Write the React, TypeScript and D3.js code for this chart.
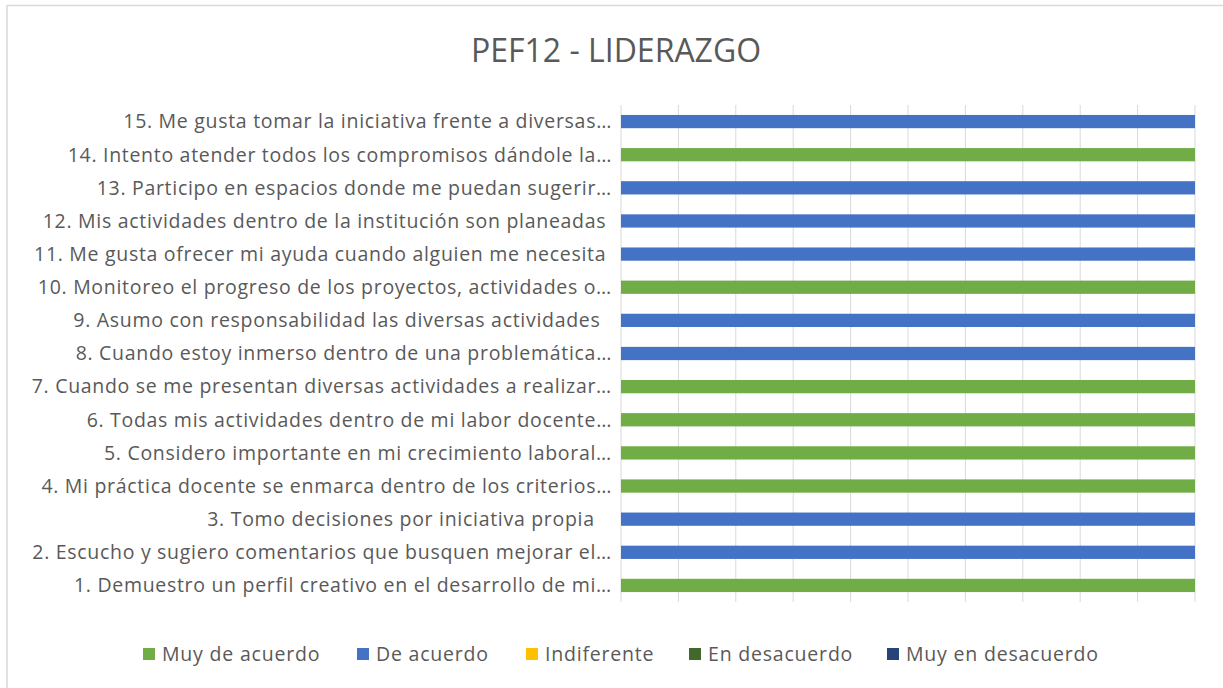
import React from "react";
import * as d3 from "d3";

const title = "PEF12 - LIDERAZGO";

const questions = [
  "1. Demuestro un perfil creativo en el desarrollo de mi…",
  "2. Escucho y sugiero comentarios que busquen mejorar el…",
  "3. Tomo decisiones por iniciativa propia   ",
  "4. Mi práctica docente se enmarca dentro de los criterios…",
  "5. Considero importante en mi crecimiento laboral…",
  "6. Todas mis actividades dentro de mi labor docente…",
  "7. Cuando se me presentan diversas actividades a realizar…",
  "8. Cuando estoy inmerso dentro de una problemática…",
  "9. Asumo con responsabilidad las diversas actividades  ",
  "10. Monitoreo el progreso de los proyectos, actividades o…",
  "11. Me gusta ofrecer mi ayuda cuando alguien me necesita ",
  "12. Mis actividades dentro de la institución son planeadas ",
  "13. Participo en espacios donde me puedan sugerir…",
  "14. Intento atender todos los compromisos dándole la…",
  "15. Me gusta tomar la iniciativa frente a diversas…",
];

const seriesNames = ["Muy de acuerdo", "De acuerdo", "Indiferente", "En desacuerdo", "Muy en desacuerdo"];
const seriesColors = ["#70AD47", "#4472C4", "#FFC000", "#43682B", "#264478"];

const muyDeAcuerdo = [1, 0, 0, 1, 1, 1, 1, 0, 0, 1, 0, 0, 0, 1, 0];
const deAcuerdo = [0, 1, 1, 0, 0, 0, 0, 1, 1, 0, 1, 1, 1, 0, 1];
const indiferente = [0, 0, 0, 0, 0, 0, 0, 0, 0, 0, 0, 0, 0, 0, 0];
const enDesacuerdo = [0, 0, 0, 0, 0, 0, 0, 0, 0, 0, 0, 0, 0, 0, 0];
const muyEnDesacuerdo = [0, 0, 0, 0, 0, 0, 0, 0, 0, 0, 0, 0, 0, 0, 0];

const seriesValues = [muyDeAcuerdo, deAcuerdo, indiferente, enDesacuerdo, muyEnDesacuerdo];

const FONT = "'Open Sans', sans-serif";
const TEXT = "#595959";

export default function App() {
  const W = 1223;
  const H = 688;
  const left = 621;
  const right = 1195;
  const top = 105;
  const bottom = 602;

  const rows = questions.map((q, i) => {
    const r: any = { q };
    seriesNames.forEach((s, k) => (r[s] = seriesValues[k][i]));
    return r;
  });

  const stack = d3.stack<any>().keys(seriesNames).offset(d3.stackOffsetExpand);
  const stacked = stack(rows);

  const x = d3.scaleLinear().domain([0, 1]).range([left, right]);
  const y = d3
    .scaleBand<string>()
    .domain([...questions].reverse())
    .range([top, bottom])
    .paddingInner(0.6)
    .paddingOuter(0.3);

  const ticks = x.ticks(10);
  const legendX = [143, 357, 526, 689, 887];

  return (
    <svg width={W} height={H} style={{ position: "absolute", left: 0, top: 0, background: "#fff" }}>
      <rect x={0} y={0} width={W} height={H} fill="#fff" />
      <line x1={7} y1={5.5} x2={W} y2={5.5} stroke="#D9D9D9" strokeWidth={1.5} />
      <line x1={7} y1={5} x2={7} y2={H} stroke="#D9D9D9" strokeWidth={1.5} />
      <text x={616} y={62} textAnchor="middle" fontFamily={FONT} fontSize={32} fill={TEXT}>
        {title}
      </text>
      {ticks.map((t) => (
        <line key={t} x1={x(t)} x2={x(t)} y1={top} y2={bottom} stroke="#D9D9D9" strokeWidth={1} />
      ))}
      {stacked.map((layer, k) => (
        <g key={layer.key} fill={seriesColors[k]}>
          {layer.map((d, i) => {
            const w = x(d[1]) - x(d[0]);
            if (!(w > 0)) return null;
            return (
              <rect key={i} x={x(d[0])} y={y(questions[i])} width={w} height={y.bandwidth()} />
            );
          })}
        </g>
      ))}
      {questions.map((q) => (
        <text
          key={q}
          x={612}
          y={(y(q) as number) + y.bandwidth() / 2}
          dy="0.35em"
          textAnchor="end"
          fontFamily={FONT}
          fontSize={19.5}
          letterSpacing={0.7}
          fill={TEXT}
          style={{ whiteSpace: "pre" }}
        >
          {q}
        </text>
      ))}
      {seriesNames.map((s, k) => (
        <g key={s} transform={`translate(${legendX[k]},0)`}>
          <rect x={0} y={648} width={12} height={12} fill={seriesColors[k]} />
          <text x={19} y={654} dy="0.35em" fontFamily={FONT} fontSize={19.5} letterSpacing={0.8} fill={TEXT}>
            {s}
          </text>
        </g>
      ))}
    </svg>
  );
}
